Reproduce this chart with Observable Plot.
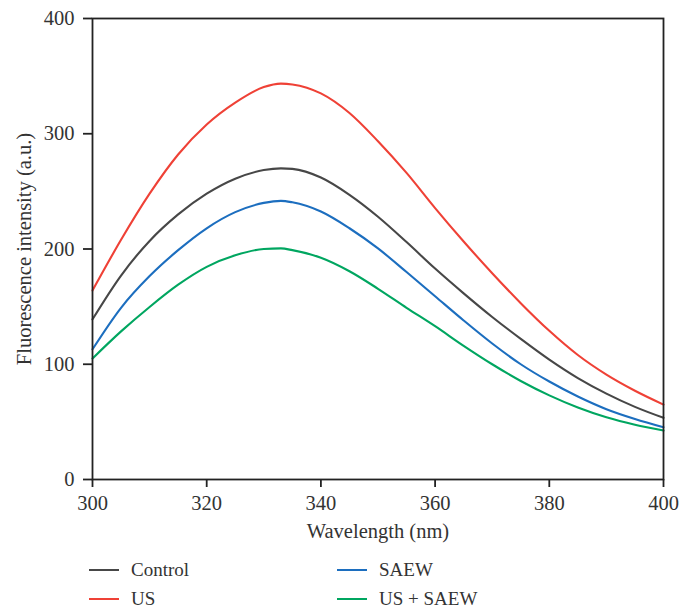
<!DOCTYPE html>
<html>
<head>
<meta charset="utf-8">
<script src="https://cdn.jsdelivr.net/npm/d3@7"></script>
<script src="https://cdn.jsdelivr.net/npm/@observablehq/plot@0.6"></script>
<style>
  html, body { margin: 0; padding: 0; background: #fff; }
  #chart { width: 680px; position: relative; }
  .legend { position: relative; width: 680px; height: 60px; font-family: "Liberation Serif", serif; font-size: 19px; color: #333; }
  .item { position: absolute; display: flex; align-items: center; }
  .swatch { width: 30px; height: 0; border-top: 2.4px solid; margin-right: 12px; }
</style>
</head>
<body>
<div id="chart"></div>
<script>
const wavelengths = [300, 305, 310, 315, 320, 325, 330, 333, 335, 340, 345, 350, 355, 360, 365, 370, 375, 380, 385, 390, 395, 400];
const control   = [139, 177, 207, 230, 248, 261, 268.5, 270, 269.5, 262, 247, 228, 206, 183, 161.5, 141, 122, 104, 88, 74.5, 63, 53.5];
const us        = [164, 208, 248, 282, 308, 327, 340.5, 343.5, 342.8, 335, 318, 293.5, 266, 235.5, 206.5, 179, 153, 129, 108, 91, 77, 65];
const saew      = [113, 149, 176.5, 199, 218, 232, 240, 241.8, 240.5, 232.5, 218, 200.5, 180, 159, 138, 118, 100, 85, 72, 61, 52.5, 45.3];
const usSaew    = [105, 128.5, 149.7, 169, 184.5, 194.5, 200, 200.5, 199, 192.4, 180.7, 165.5, 149, 133, 116, 100, 85.5, 73, 62.5, 54, 47.5, 42.5];

const seriesNames = ["Control", "US", "SAEW", "US + SAEW"];
const seriesValues = [control, us, saew, usSaew];
const seriesColors = ["#474747", "#ef4136", "#1c6ebf", "#00a660"];
const xTicks = [300, 320, 340, 360, 380, 400];
const yTicks = [0, 100, 200, 300, 400];

const rows = seriesNames.flatMap((name, i) =>
  wavelengths.map((w, j) => ({series: name, wavelength: w, value: seriesValues[i][j]})));

const chart = Plot.plot({
  width: 680,
  height: 552,
  marginLeft: 92,
  marginRight: 17,
  marginTop: 18,
  marginBottom: 73,
  style: {fontFamily: "'Liberation Serif', serif", fontSize: "20.5px", color: "#333", background: "#fff"},
  x: {domain: [300, 400]},
  y: {domain: [0, 400]},
  color: {domain: seriesNames, range: seriesColors},
  marks: [
    Plot.line(rows, {x: "wavelength", y: "value", z: "series", stroke: "series", strokeWidth: 2.1, curve: "monotone-x"}),
    Plot.frame({stroke: "#222", strokeWidth: 1.8}),
    Plot.axisX({ticks: xTicks, tickSize: 8, tickPadding: 8, tickFormat: d => String(d), stroke: "#222", strokeWidth: 1.8, fontSize: 20.5,
      label: "Wavelength (nm)", labelAnchor: "center", labelOffset: 58, labelArrow: "none"}),
    Plot.axisY({ticks: yTicks, tickSize: 9, tickPadding: 9, tickFormat: d => String(d), stroke: "#222", strokeWidth: 1.8, fontSize: 20.5,
      label: "Fluorescence intensity (a.u.)", labelAnchor: "center", labelOffset: 76, labelArrow: "none"})
  ]
});
document.getElementById("chart").appendChild(chart);

const legend = document.createElement("div");
legend.className = "legend";
const positions = [[89, 7], [89, 36], [337, 7], [337, 36]];
seriesNames.forEach((name, i) => {
  const item = document.createElement("div");
  item.className = "item";
  item.style.left = positions[i][0] + "px";
  item.style.top = positions[i][1] + "px";
  const sw = document.createElement("span");
  sw.className = "swatch";
  sw.style.borderTopColor = seriesColors[i];
  const label = document.createElement("span");
  label.textContent = name;
  item.appendChild(sw);
  item.appendChild(label);
  legend.appendChild(item);
});
document.body.appendChild(legend);
</script>
</body>
</html>
